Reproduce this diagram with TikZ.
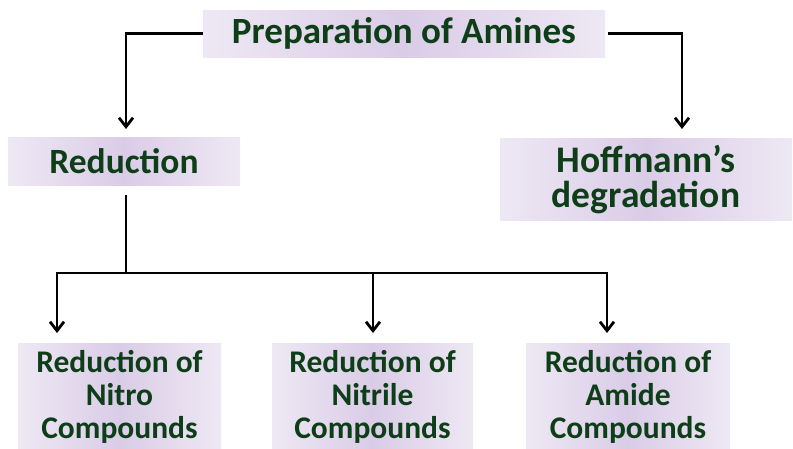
\documentclass[tikz,border=0pt]{standalone}
\usepackage{fontspec}
\setmainfont{Carlito}
\usetikzlibrary{positioning,arrows.meta,shapes,fit,calc}
\definecolor{amgreen}{RGB}{14,62,24}
\definecolor{lavin}{RGB}{218,204,231}
\definecolor{lavout}{RGB}{238,232,244}

\begin{document}
\begin{tikzpicture}[
  x=1pt, y=-1pt,
  box/.style={left color=lavout, right color=lavout, middle color=lavin, align=center, inner sep=0pt,
    text=amgreen, font=\bfseries},
  arrow/.style={-{Straight Barb[length=9pt,width=14pt]}, line width=2.8pt, line join=miter}
]
\useasboundingbox (0,0) rectangle (793,448);

\node[box, minimum width=402pt, minimum height=47pt, font=\bfseries\fontsize{37}{40}\selectfont] (prep) at (404,33.5) {Preparation of Amines};
\node[box, minimum width=232pt, minimum height=48pt, font=\bfseries\fontsize{35.5}{38}\selectfont] (red) at (124,161) {Reduction};
\node[box, minimum width=292pt, minimum height=82pt, font=\bfseries\fontsize{37.5}{35}\selectfont] (hoff) at (646,179.5) {Hoffmann’s\\degradation};

\node[box, minimum width=203pt, minimum height=108pt, font=\bfseries\fontsize{31.5}{33}\selectfont] (nitro) at (119.5,397) {Reduction of\\Nitro\\Compounds};
\node[box, minimum width=201pt, minimum height=108pt, font=\bfseries\fontsize{31.5}{33}\selectfont] (nitrile) at (372.5,397) {Reduction of\\Nitrile\\Compounds};
\node[box, minimum width=204pt, minimum height=108pt, font=\bfseries\fontsize{31.5}{33}\selectfont] (amide) at (628,397) {Reduction of\\Amide\\Compounds};

\coordinate (redin) at (126,129);
\coordinate (hoffin) at (682,129);
\coordinate (split) at (126,273);
\coordinate (nitroin) at (57,333);
\coordinate (nitrilein) at (373,333);
\coordinate (amidein) at (607,333);

\draw[arrow] (prep.west) -| (redin);
\draw[arrow] ([xshift=3pt]prep.east) -| (hoffin);
\draw[line width=2.8pt, shorten <=10pt] (red.south -| split) -- (split);
\draw[arrow] (split) -| (nitroin);
\draw[arrow] (split) -| (nitrilein);
\draw[arrow] (split) -| (amidein);
\end{tikzpicture}
\end{document}
